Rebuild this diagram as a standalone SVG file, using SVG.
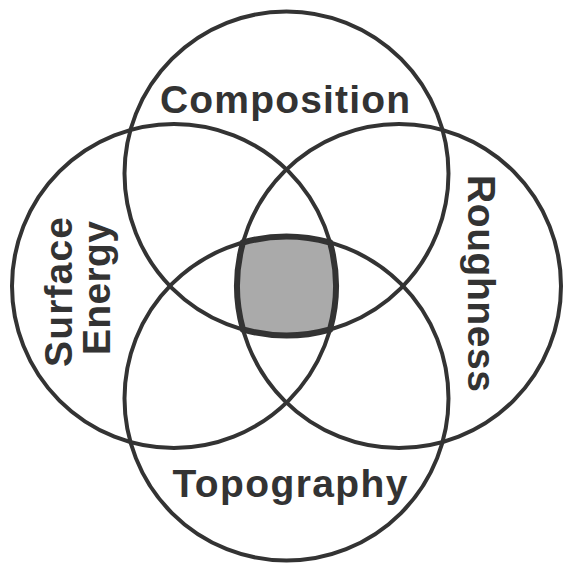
<svg xmlns="http://www.w3.org/2000/svg" width="564" height="566" viewBox="0 0 564 566">
<style>
.c{fill:none;stroke:#333;stroke-width:4}
.t{font-family:"Liberation Sans",Arial,sans-serif;font-weight:bold;font-size:39px;fill:#333;text-anchor:middle}
</style>
<rect width="564" height="566" fill="#fff"/>
<g id="connectors"></g>
<g id="core">
<path d="M243 242.5 A162 162 0 0 1 330 242.5 A162 162 0 0 1 330 329.5 A162 162 0 0 1 243 329.5 A162 162 0 0 1 243 242.5 Z" fill="#aaa" stroke="#333" stroke-width="6"/>
</g>
<g id="composition">
<circle class="c" cx="286.5" cy="173.5" r="162"/>
<text class="t" x="285" y="113" textLength="250" lengthAdjust="spacing">Composition</text>
</g>
<g id="surface-energy">
<circle class="c" cx="174" cy="286" r="162"/>
<text class="t" transform="translate(72 292) rotate(-90)" textLength="150" lengthAdjust="spacing">Surface</text>
<text class="t" transform="translate(110 288) rotate(-90)" textLength="134" lengthAdjust="spacing">Energy</text>
</g>
<g id="roughness">
<circle class="c" cx="399" cy="286" r="162"/>
<text class="t" transform="translate(468 283.5) rotate(90)" textLength="217" lengthAdjust="spacing">Roughness</text>
</g>
<g id="topography">
<circle class="c" cx="286.5" cy="398.5" r="162"/>
<text class="t" x="290" y="497" textLength="235" lengthAdjust="spacing">Topography</text>
</g>
</svg>
